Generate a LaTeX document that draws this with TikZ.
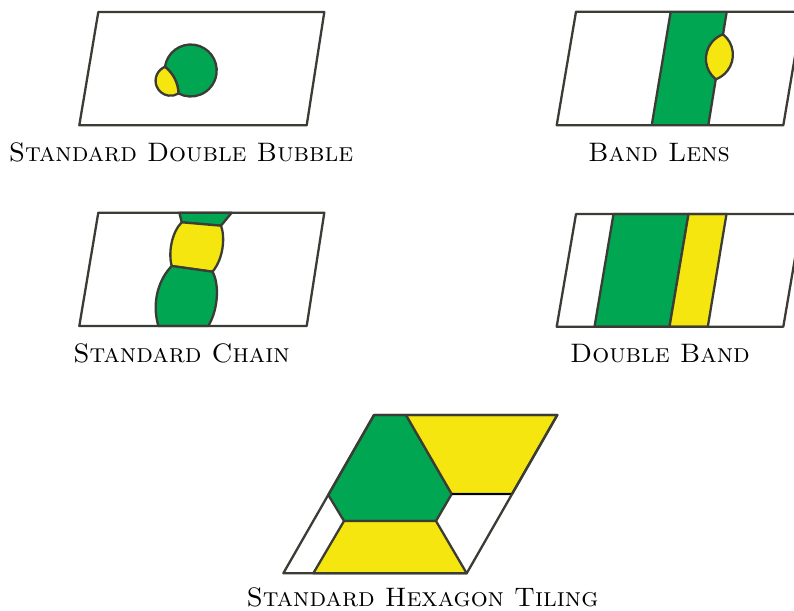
\documentclass[tikz,border=0pt]{standalone}
\usepackage{tikz}
\definecolor{bgreen}{RGB}{0,166,81}
\definecolor{byellow}{RGB}{244,230,14}
\definecolor{edgec}{RGB}{60,60,54}
\tikzset{
  region/.style={line width=2.3pt, draw=edgec, line join=round},
  frame/.style={line width=2.3pt, draw=edgec, line join=round},
  lbl/.style={anchor=base, inner sep=0pt, font=\fontsize{26.7}{31}\selectfont\scshape},
}
\begin{document}
\begin{tikzpicture}[x=1pt,y=-1pt]
\useasboundingbox[fill=white] (0,0) rectangle (794,610);
% ---------- panel 1: standard double bubble
\filldraw[region, fill=bgreen] (164.96,66.85) arc[start angle=188.07, end angle=477.93, radius=26]
   arc[start angle=358.07, end angle=308.07, radius=35.45] -- cycle;
\filldraw[region, fill=byellow] (164.96,66.85) arc[start angle=248.05, end angle=58.05, radius=15]
   arc[start angle=358.07, end angle=308.07, radius=35.45] -- cycle;
\draw[frame] (98.3,12) -- (324.3,12) -- (306.7,125.3) -- (79.3,125.3) -- cycle;
% ---------- panel 2: band lens
\fill[bgreen] (670.7,11.7) -- (726.7,11.7) -- (708.3,125.3) -- (651.7,125.3) -- cycle;
\draw[region] (670.7,11.7) -- (651.7,125.3);
\draw[region] (726.7,11.7) -- (723.04,34.3);
\draw[region] (715.75,79.3) -- (708.3,125.3);
\filldraw[region, fill=byellow] (723.04,34.3) arc[start angle=-51.5, end angle=69.9, radius=26.13]
   arc[start angle=128.5, end angle=249.9, radius=26.13] -- cycle;
\draw[frame] (576,11.7) -- (802.5,11.7) -- (783.3,125.3) -- (556.7,125.3) -- cycle;
% ---------- panel 3: standard chain
\filldraw[region, fill=bgreen] (179.3,212.7) -- (231.7,212.7) -- (221,225.7) -- (181.7,222.3) -- cycle;
\filldraw[region, fill=byellow] (181.7,222.3) -- (221,225.7) .. controls (225,236) and (224,258) .. (212.5,271.7)
   -- (171.7,266) .. controls (168,252) and (172,232) .. (181.7,222.3) -- cycle;
\filldraw[region, fill=bgreen] (171.7,266) -- (212.5,271.7) .. controls (219,283) and (219,308) .. (208.3,326)
   -- (158.3,326) .. controls (151,300) and (160,278) .. (171.7,266) -- cycle;
\draw[frame] (98.3,212.7) -- (324.3,212.7) -- (306.7,326) -- (79.3,326) -- cycle;
% ---------- panel 4: double band
\filldraw[region, fill=bgreen] (613.5,214) -- (688.5,214) -- (669.5,326.7) -- (594.5,326.7) -- cycle;
\filldraw[region, fill=byellow] (688.5,214) -- (726.5,214) -- (707.8,326.7) -- (669.5,326.7) -- cycle;
\draw[frame] (576,214) -- (802.5,214) -- (783.3,326.7) -- (556.7,326.7) -- cycle;
% ---------- panel 5: standard hexagon tiling
\filldraw[region, fill=bgreen] (374,415) -- (406,415) -- (451.7,494) -- (436,521) -- (344,521) -- (328.3,495) -- cycle;
\filldraw[region, fill=byellow] (406,415) -- (557.3,415) -- (512,494) -- (451.7,494) -- cycle;
\filldraw[region, fill=byellow] (344,521) -- (436,521) -- (466.7,573.3) -- (313.3,573.3) -- cycle;
\draw[line width=2.4pt, black] (451.7,494) -- (512,494);
\draw[frame] (374,415) -- (557.3,415) -- (466.7,573.3) -- (283.3,573.3) -- cycle;
% ---------- labels
\node[lbl] (l1) at (181,161) {Standard Double Bubble};
\node[lbl] (l2) at (659,161) {Band Lens};
\node[lbl] (l3) at (181.5,362) {Standard Chain};
\node[lbl] (l4) at (660,362) {Double Band};
\node[lbl] (l5) at (422.5,606) {Standard Hexagon Tiling};
\end{tikzpicture}
\end{document}
